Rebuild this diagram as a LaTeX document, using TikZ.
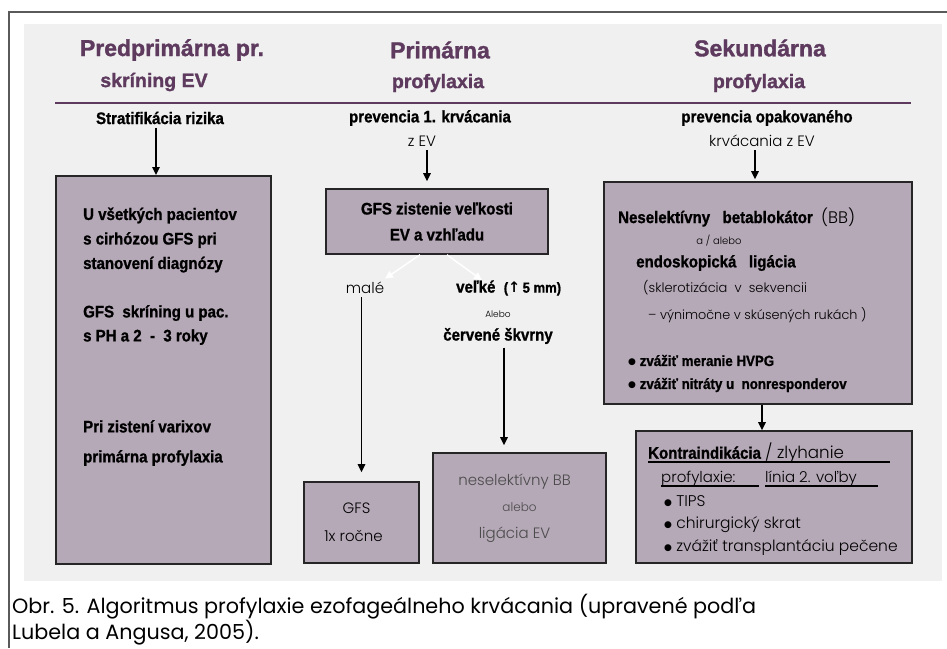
\documentclass[tikz,border=0pt]{standalone}
\usepackage{fontspec}
\setmainfont{Liberation Sans}
\newfontfamily\heavy{Liberation Sans Bold}[FakeBold=1.4]
\newfontfamily\cond{Liberation Sans Bold}[FakeStretch=0.9, FakeBold=1.1]
\newfontfamily\geo{Poppins}
\newfontfamily\geolight{Poppins Light}
\newfontfamily\sym{DejaVu Sans}
\usetikzlibrary{arrows.meta, positioning}
\definecolor{titlepurple}{RGB}{94,58,94}
\definecolor{boxmauve}{RGB}{181,168,183}
\definecolor{panelgray}{RGB}{240,240,240}
\definecolor{framegray}{RGB}{90,90,90}
\definecolor{textgray}{RGB}{75,75,75}
\newcommand{\bul}{\raisebox{1pt}{\sym\fontsize{9}{9}\selectfont ●}}

\begin{document}
\begin{tikzpicture}[x=1pt, y=-1pt, >=Triangle,
    box/.style={draw=black!85, line width=1.6pt, fill=boxmauve, inner sep=0pt},
    ttl/.style={text=titlepurple, font=\heavy\fontsize{23}{26}\selectfont},
    subttl/.style={text=titlepurple, font=\heavy\fontsize{19.5}{22}\selectfont},
    hd/.style={font=\cond\fontsize{16.7}{20}\selectfont},
    lt/.style={font=\geolight\fontsize{15}{18}\selectfont},
    txt/.style={anchor=west, inner sep=0pt},
    arr/.style={-{Triangle[length=8pt,width=7.5pt]}, line width=1.5pt},
    warr/.style={arr, white}]

    \useasboundingbox (0,0) rectangle (947,648);
    \fill[panelgray] (24,24) rectangle (942,581);
    \draw[framegray, line width=1.2pt] (947,12) -- (9,12) -- (9,648);

    \node[ttl] (pre) at (172,50) {Predprimárna pr.};
    \node[subttl] (pre2) at (154,82) {skríning EV};
    \node[ttl] (prim) at (440,50) {Primárna};
    \node[subttl] (prim2) at (438,83) {profylaxia};
    \node[ttl] (sek) at (760,48) {Sekundárna};
    \node[subttl] (sek2) at (759,83) {profylaxia};
    \draw[titlepurple, line width=2.8pt] (55,103) -- (911,103);

    \node[hd] (strat) at (160,118) {Stratifikácia rizika};
    \node[hd] (prev1) at (430,118) {prevencia 1. krvácania};
    \node[lt] (zev) at (422,141) {z EV};
    \node[hd] (prev2) at (767,118) {prevencia opakovaného};
    \node[lt] (kzev) at (762,141) {krvácania z EV};

    \node[box, minimum width=215pt, minimum height=388pt, anchor=north west] (screen) at (55,175) {};
    \node[box, minimum width=222pt, minimum height=65pt, align=center,
        font=\cond\fontsize{16.7}{26}\selectfont] (gfs) at (437,221.5) {GFS zistenie veľkosti\\EV a vzhľadu};
    \node[box, minimum width=115pt, minimum height=81pt, align=center,
        font=\geolight\fontsize{15}{28}\selectfont] (yearly) at (361.5,522.5) {GFS\hspace*{10pt}\\1x ročne\hspace*{16pt}};
    \node[box, minimum width=173pt, minimum height=110pt, align=center, text=textgray,
        font=\geolight\fontsize{15}{26.5}\selectfont] (bb) at (519.5,508) {neselektívny BB\hspace*{10pt}\\{\fontsize{12}{26.5}\selectfont alebo}\\ligácia EV\hspace*{10pt}};
    \node[box, minimum width=308pt, minimum height=222pt] (sekbox) at (758,293) {};
    \node[box, minimum width=276pt, minimum height=132pt] (contra) at (774,497) {};

    \node[txt, align=left, font=\cond\fontsize{16.7}{24.5}\selectfont] (all) at (83,240)
        {U všetkých pacientov\\s cirhózou GFS pri\\stanovení diagnózy};
    \node[txt, align=left, font=\cond\fontsize{16.7}{24}\selectfont] (ph) at (83,325)
        {GFS\enspace skríning u pac.\\s PH a 2\enspace-\enspace3 roky};
    \node[txt, align=left, font=\cond\fontsize{16.7}{30}\selectfont] (varix) at (83,443)
        {Pri zistení varixov\\primárna profylaxia};

    \node[lt] (male) at (365,288) {malé};
    \node[hd, txt] (velke) at (456,288) {veľké\enspace{\fontsize{14.5}{16}\selectfont({\sym\bfseries ↑}\,5 mm)}};
    \node[font=\geolight\fontsize{9}{11}\selectfont] (alebo) at (498,314) {Alebo};
    \node[hd] (cerv) at (498,336) {červené škvrny};

    \node[hd, txt] (nbb) at (618,217) {Neselektívny\enspace\ betablokátor\enspace{\geolight (BB)}};
    \node[font=\geolight\fontsize{10}{12}\selectfont] (aalebo) at (719,241) {a / alebo};
    \node[hd, txt] (endo) at (636,263) {endoskopická\enspace\ ligácia};
    \node[lt, txt, font=\geolight\fontsize{13}{15}\selectfont] (skl) at (643,288) {(sklerotizácia\ \ v\ \ sekvencii};
    \node[lt, txt, font=\geolight\fontsize{12.8}{15}\selectfont] (vyn) at (648,315) {– výnimočne v skúsených rukách )};
    \node[txt, align=left, font=\cond\fontsize{14.8}{23}\selectfont] (hvpg) at (628,373.5)
        {\bul\ zvážiť meranie HVPG\\\bul\ zvážiť nitráty u\enspace nonresponderov};

    \node[hd, txt] (kontra) at (648,453) {Kontraindikácia {\geolight / zlyhanie}};
    \node[lt, txt] (profx) at (661,479) {profylaxie:};
    \node[lt, txt] (linia) at (765,479) {línia 2. voľby};
    \draw[line width=1.2pt] (648,462) -- (890,462);
    \draw[line width=1.2pt] (661,486) -- (759,486);
    \draw[line width=1.2pt] (765,486) -- (878,486);
    \node[txt, align=left, font=\geolight\fontsize{15.5}{22.5}\selectfont] (alt) at (664,525.5)
        {\bul\ TIPS\\\bul\ chirurgický skrat\\\bul\ zvážiť transplantáciu pečene};

    \node[anchor=north west, align=left, inner sep=0pt, font=\geo\fontsize{20.7}{24}\selectfont] (cap) at (12,594)
        {Obr. 5. Algoritmus profylaxie ezofageálneho krvácania (upravené podľa\\Lubela a Angusa, 2005).};

    \draw[arr] ([xshift=-4pt]strat.south) -- ([xshift=-4pt]strat.south |- screen.north);
    \draw[arr, shorten >=7pt] ([xshift=5pt]zev.south) -- ([xshift=5pt]zev.south |- gfs.north);
    \draw[arr, shorten >=2pt] ([xshift=-7pt]kzev.south) -- ([xshift=-7pt]kzev.south |- sekbox.north);
    \draw[warr] ([xshift=-17pt]gfs.south) -- ([xshift=20pt]male.north);
    \draw[warr] ([xshift=10pt]gfs.south) -- ([xshift=26pt]velke.north west);
    \draw[arr, shorten >=9pt] (male.south -| yearly.north) -- (yearly.north);
    \draw[arr, shorten >=7pt] ([xshift=6pt]cerv.south) -- ([xshift=6pt]cerv.south |- bb.north);
    \draw[arr] ([xshift=4pt]sekbox.south) -- ([xshift=4pt]sekbox.south |- contra.north);
\end{tikzpicture}
\end{document}
